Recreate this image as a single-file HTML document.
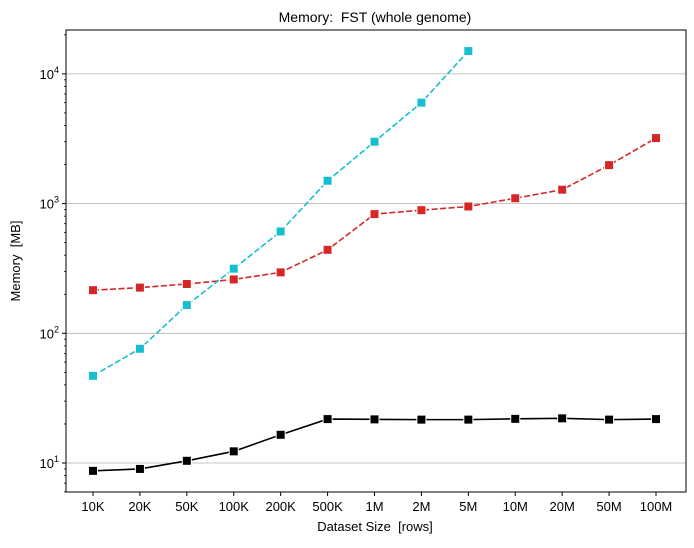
<!DOCTYPE html>
<html><head><meta charset="utf-8"><style>
body{margin:0;background:#fff;font-family:"Liberation Sans","DejaVu Sans",sans-serif}
text{white-space:pre}
</style></head><body>
<svg id="chart" width="694" height="543" xmlns="http://www.w3.org/2000/svg">
<rect width="694" height="543" fill="#fff"/>
<text x="375" y="22" text-anchor="middle" font-size="14">Memory:  FST (whole genome)</text>
<g id="grid"></g><g id="series"></g><g id="axes"></g>
<text x="375" y="531" text-anchor="middle" font-size="13">Dataset Size  [rows]</text>
<text transform="translate(20,261) rotate(-90)" text-anchor="middle" font-size="13">Memory  [MB]</text>
</svg>
<script>
const categories=["10K","20K","50K","100K","200K","500K","1M","2M","5M","10M","20M","50M","100M"];
const cyanValues=[47,76,165,315,610,1500,3000,6000,15000];
const redValues=[215,225,240,260,295,440,830,890,950,1100,1280,1980,3200];
const blackValues=[8.7,9.0,10.4,12.3,16.5,21.8,21.7,21.6,21.6,21.9,22.1,21.6,21.8];
const yTicks=[10,100,1000,10000];
const yTickLabels=["1","2","3","4"];
const NS="http://www.w3.org/2000/svg";
const L=66,R=686,T=30,B=492;
const x0=93,dx=(656-93)/12;
const xs=i=>x0+i*dx;
const ys=v=>463-(Math.log10(v)-1)*129.7;
function mk(tag,attrs,parent){const e=document.createElementNS(NS,tag);for(const k in attrs)e.setAttribute(k,attrs[k]);parent.appendChild(e);return e;}
const grid=document.getElementById('grid'),axes=document.getElementById('axes'),ser=document.getElementById('series');
yTicks.forEach((v,i)=>{
 const y=ys(v);
 const g=mk('line',{x1:L,x2:R,y1:y,y2:y,stroke:'#b0b0b0','stroke-width':0.8},grid);
 
 
 mk('line',{x1:L-4,x2:L,y1:y,y2:y,stroke:'#000'},axes);
 const t=mk('text',{x:L-7,y:y+5,'text-anchor':'end','font-size':13},axes);
 
 
 t.textContent='10';
 const s=mk('tspan',{dy:-6,'font-size':9},t);s.textContent=yTickLabels[i];
});
for(let d=0;d<=4;d++){for(let m=2;m<=9;m++){const v=m*Math.pow(10,d);const y=ys(v);if(y<T||y>B)continue;mk('line',{x1:L-2,x2:L,y1:y,y2:y,stroke:'#000','stroke-width':0.8},axes);}}
categories.forEach((c,i)=>{
 const x=xs(i);
 mk('line',{x1:x,x2:x,y1:B,y2:B+4,stroke:'#000'},axes);
 const t=mk('text',{x:x,y:B+19,'text-anchor':'middle','font-size':13},axes);
 
 
 t.textContent=c;
});
const frame=mk('rect',{x:L,y:T,width:R-L,height:B-T,fill:'none',stroke:'#000','stroke-width':1},axes);


function series(vals,color,dash,name){
 const g=mk('g',{},ser);
 
 
 const pts=vals.map((v,i)=>xs(i)+','+ys(v)).join(' ');
 const attrs={points:pts,fill:'none',stroke:color,'stroke-width':1.6};
 if(dash)attrs['stroke-dasharray']=dash;
 mk('polyline',attrs,g);
 vals.forEach((v,i)=>{
  const r=mk('rect',{x:xs(i)-4.5,y:ys(v)-4.5,width:9,height:9,fill:color,stroke:'#fff','stroke-width':1},g);
  
  
 });
}
series(blackValues,'#000',null,'black-series');
series(redValues,'#d62728','6,2.5','red-series');
series(cyanValues,'#17becf','6,2.5','cyan-series');
</script>
</body></html>
